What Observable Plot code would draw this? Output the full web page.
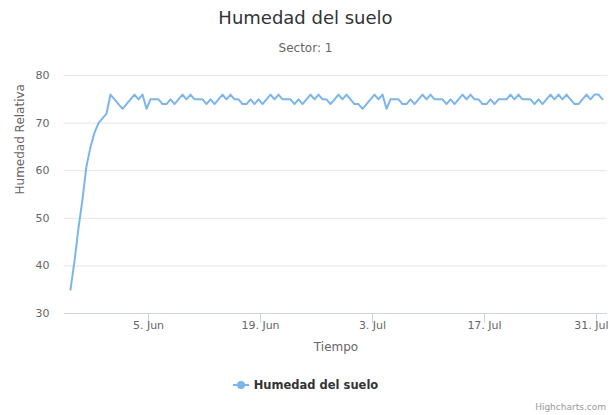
<!DOCTYPE html>
<html>
<head>
<meta charset="utf-8">
<script src="https://cdn.jsdelivr.net/npm/d3@7"></script>
<script src="https://cdn.jsdelivr.net/npm/@observablehq/plot@0.6"></script>
<style>
  html, body { margin: 0; padding: 0; background: #fff; }
  #chart { position: relative; width: 611px; height: 415px; font-family: "DejaVu Sans", sans-serif; overflow: hidden; }
  .title { position: absolute; left: 0; width: 611px; top: 9px; text-align: center; font-size: 18px; line-height: 18px; color: #333; }
  .subtitle { position: absolute; left: 0; width: 611px; top: 42px; text-align: center; font-size: 12px; line-height: 12px; color: #666; }
  #plot { position: absolute; left: 0; top: 60px; }
  .legend { position: absolute; left: 0; width: 611px; top: 377px; height: 16px; display: flex; justify-content: center; align-items: center; font-size: 11.5px; font-weight: bold; color: #333; }
  .legend svg { margin-right: 5px; }
  .credit { position: absolute; right: 5px; top: 401px; font-size: 9px; line-height: 12px; color: #999; }
</style>
</head>
<body>
<div id="chart">
  <div class="title">Humedad del suelo</div>
  <div class="subtitle">Sector: 1</div>
  <div id="plot"></div>
  <div class="legend">
    <svg width="16" height="12"><line x1="0" y1="6" x2="16" y2="6" stroke="#7cb5ec" stroke-width="2"/><circle cx="8" cy="6" r="4" fill="#7cb5ec"/></svg>
    <span>Humedad del suelo</span>
  </div>
  <div class="credit">Highcharts.com</div>
</div>
<script>
// Series: soil humidity readings every 12 hours starting 26 May
const startTime = Date.UTC(2016, 4, 26, 6);
const stepHours = 12;
const humedad = [
  35, 41, 48, 54, 61, 65, 68, 70, 71, 72,
  76, 75, 74, 73, 74, 75, 76, 75, 76, 73,
  75, 75, 75, 74, 74, 75, 74, 75, 76, 75,
  76, 75, 75, 75, 74, 75, 74, 75, 76, 75,
  76, 75, 75, 74, 74, 75, 74, 75,
  74, 75, 76, 75, 76, 75, 75, 75, 74, 75,
  74, 75, 76, 75, 76, 75, 75, 74, 75, 76,
  75, 76, 75, 74, 74, 73, 74, 75, 76, 75,
  76, 73, 75, 75, 75, 74, 74, 75, 74, 75,
  76, 75, 76, 75, 75, 75, 74, 75, 74, 75,
  76, 75, 76, 75, 75, 74, 74, 75, 74, 75,
  75, 75, 76, 75, 76, 75, 75, 75, 74, 75,
  74, 75, 76, 75, 76, 75, 76, 75, 74, 74,
  75, 76, 75, 76, 76, 75
];
// Axis ticks
const xTicks = ["2016-06-05", "2016-06-19", "2016-07-03", "2016-07-17", "2016-07-31"];
const monthNames = ["Jan","Feb","Mar","Apr","May","Jun","Jul","Aug","Sep","Oct","Nov","Dec"];
const yTicks = [30, 40, 50, 60, 70, 80];
const xDomain = ["2016-05-25T12:00Z", "2016-08-01T09:00Z"];

const data = humedad.map((v, i) => ({date: new Date(startTime + i * stepHours * 3600e3), value: v}));
const tickDates = xTicks.map(s => new Date(s + "T00:00Z"));
const fmt = d => `${d.getUTCDate()}. ${monthNames[d.getUTCMonth()]}`;
const innerTicks = tickDates.slice(0, -1);
const lastTick = tickDates.slice(-1);

const chart = Plot.plot({
  width: 611,
  height: 303,
  marginLeft: 64,
  marginRight: 4,
  marginTop: 15,
  marginBottom: 50,
  style: {fontFamily: "DejaVu Sans, sans-serif", fontSize: "11px", color: "#666", background: "white"},
  x: {type: "utc", domain: xDomain.map(s => new Date(s))},
  y: {domain: [30, 80]},
  marks: [
    Plot.gridY(yTicks.filter(t => t > 30), {stroke: "#e6e6e6", strokeOpacity: 1}),
    Plot.ruleY([30], {stroke: "#ccd6eb"}),
    Plot.axisX({ticks: tickDates, tickSize: 10, tickFormat: () => "", stroke: "#ccd6eb", strokeOpacity: 1, label: null}),
    Plot.text(innerTicks, {x: d => d, text: fmt, frameAnchor: "bottom", dy: 15, fill: "#666", fontSize: 11}),
    Plot.text(lastTick, {x: d => d, text: fmt, frameAnchor: "bottom", dy: 15, dx: 12, textAnchor: "end", fill: "#666", fontSize: 11}),
    Plot.axisY({ticks: yTicks, tickSize: 0, tickPadding: 15, fill: "#666", fontSize: 11, label: null}),
    Plot.text(["Tiempo"], {frameAnchor: "bottom", dy: 37, fill: "#666", fontSize: 12}),
    Plot.text(["Humedad Relativa"], {frameAnchor: "left", dx: -44, rotate: -90, fill: "#666", fontSize: 12}),
    Plot.line(data, {x: "date", y: "value", stroke: "#7cb5ec", strokeWidth: 2, curve: "linear"})
  ]
});
document.getElementById("plot").appendChild(chart);
</script>
</body>
</html>
